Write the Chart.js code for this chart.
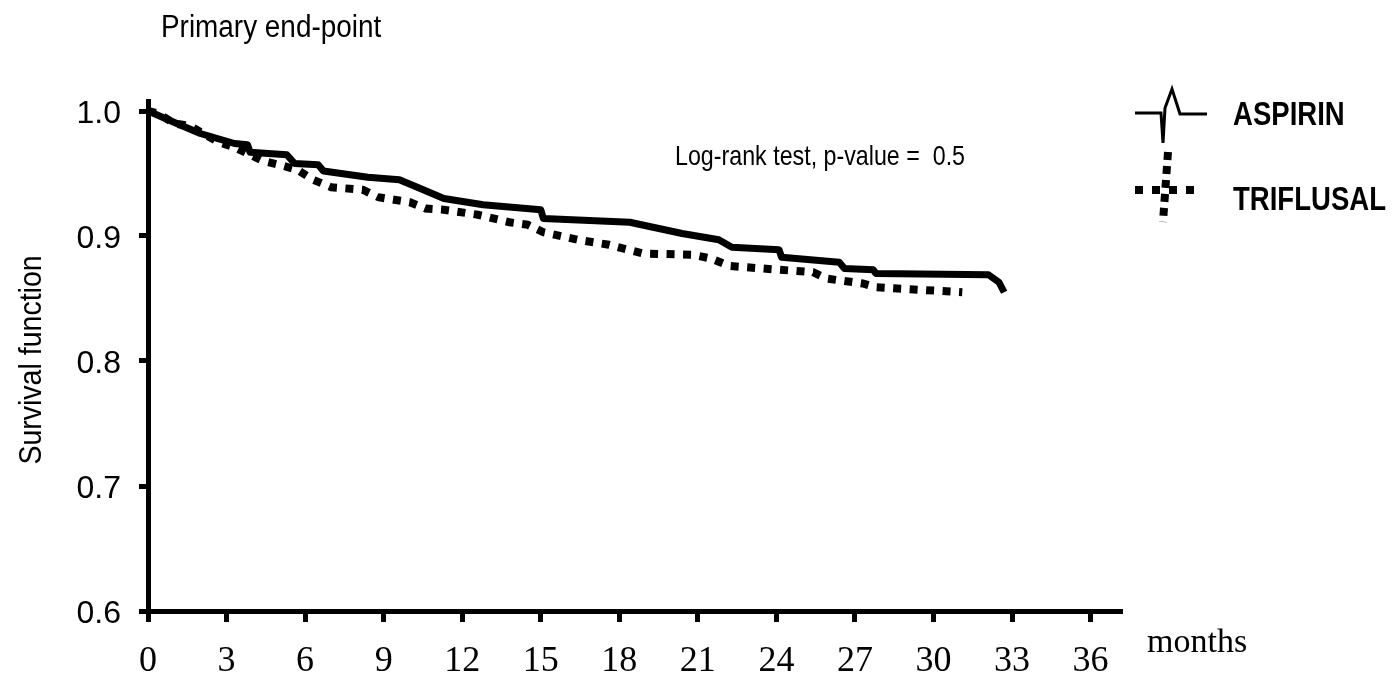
<!DOCTYPE html>
<html>
<head>
<meta charset="utf-8">
<title>Primary end-point</title>
<script src="https://cdn.jsdelivr.net/npm/chart.js@4.4.1/dist/chart.umd.min.js"></script>
<style>
  html, body { margin: 0; padding: 0; background: #ffffff; }
  #wrap { width: 1396px; height: 673px; position: relative; }
</style>
</head>
<body>
<div id="wrap"><canvas id="km" width="1396" height="673"></canvas></div>
<script>
// Tick labels
const monthTicks = [0, 3, 6, 9, 12, 15, 18, 21, 24, 27, 30, 33, 36];
const survivalTicks = [0.6, 0.7, 0.8, 0.9, 1.0];

// Kaplan-Meier estimates, ASPIRIN arm
const aspirinMonths = [0, 1.1, 2.0, 3.3, 3.8, 3.9, 5.3, 5.6, 6.5, 6.7, 8.4, 9.6, 10.4, 11.3, 12.8, 15.0, 15.1,
  18.4, 20.4, 21.8, 22.3, 24.1, 24.2, 26.4, 26.6, 27.7, 27.8, 32.1, 32.5, 32.7];
const aspirinSurvival = [1.000, 0.990, 0.982, 0.974, 0.973, 0.967, 0.965, 0.958, 0.957, 0.952, 0.947, 0.945, 0.938,
  0.930, 0.925, 0.921, 0.914, 0.911, 0.902, 0.897, 0.891, 0.889, 0.883, 0.879, 0.874, 0.873, 0.870, 0.869, 0.863, 0.855];

// Kaplan-Meier estimates, TRIFLUSAL arm
const triflusalMonths = [0, 0.4, 1.0, 1.6, 2.7, 3.3, 4.4, 5.0, 5.7, 6.3, 7.0, 8.2, 8.8, 9.4, 10.0, 10.6, 11.3,
  12.6, 13.8, 14.5, 15.1, 16.4, 17.6, 18.9, 20.8, 21.5, 22.2, 25.4, 25.9, 27.3, 27.8, 31.1];
const triflusalSurvival = [1.000, 0.998, 0.990, 0.988, 0.975, 0.971, 0.960, 0.957, 0.953, 0.945, 0.939, 0.937, 0.931,
  0.929, 0.927, 0.922, 0.921, 0.917, 0.911, 0.909, 0.903, 0.897, 0.893, 0.886, 0.885, 0.882, 0.876, 0.871, 0.866,
  0.862, 0.859, 0.855];

const seriesNames = ['ASPIRIN', 'TRIFLUSAL'];

function toPoints(xs, ys) {
  return xs.map((x, i) => ({ x: x, y: ys[i] }));
}

// Draw text squeezed horizontally (the figure uses a condensed face)
function squeezedText(ctx, text, x, y, font, sx, align, rotate) {
  ctx.save();
  ctx.font = font;
  ctx.fillStyle = '#000';
  ctx.textBaseline = 'alphabetic';
  ctx.textAlign = align || 'left';
  ctx.translate(x, y);
  if (rotate) ctx.rotate(rotate);
  ctx.scale(sx, 1);
  ctx.fillText(text, 0, 0);
  ctx.restore();
}

const decorations = {
  id: 'decorations',
  afterDraw(chart) {
    const ctx = chart.ctx;
    const sans = '"Liberation Sans", Arial, sans-serif';

    // titles and note
    squeezedText(ctx, 'Primary end-point', 161, 37, '31px ' + sans, 0.9, 'left');
    squeezedText(ctx, 'Survival function', 41, 360, '31px ' + sans, 0.92, 'center', -Math.PI / 2);
    squeezedText(ctx, 'Log-rank test, p-value =  0.5', 675, 165, '28px ' + sans, 0.83, 'left');
    squeezedText(ctx, 'months', 1147, 652, '34px "Liberation Serif", "Times New Roman", serif', 1.0, 'left');

    // legend
    squeezedText(ctx, seriesNames[0], 1233, 125, 'bold 34px ' + sans, 0.81, 'left');
    squeezedText(ctx, seriesNames[1], 1233, 210, 'bold 34px ' + sans, 0.81, 'left');

    ctx.save();
    ctx.strokeStyle = '#000';
    ctx.lineJoin = 'miter';
    ctx.lineWidth = 3;
    ctx.beginPath();
    ctx.moveTo(1135, 113);
    ctx.lineTo(1161, 113);
    ctx.lineTo(1163, 143);
    ctx.lineTo(1165, 108);
    ctx.lineTo(1172, 89);
    ctx.lineTo(1180, 114);
    ctx.lineTo(1207, 114);
    ctx.stroke();

    ctx.lineWidth = 8;
    ctx.setLineDash([8, 9]);
    ctx.beginPath();
    ctx.moveTo(1135, 190);
    ctx.lineTo(1202, 190);
    ctx.stroke();
    ctx.setLineDash([8, 6]);
    ctx.lineCap = 'butt';
    ctx.beginPath();
    ctx.moveTo(1168, 152);
    ctx.lineTo(1163, 222);
    ctx.stroke();
    ctx.restore();
  }
};

new Chart(document.getElementById('km'), {
  type: 'line',
  data: {
    datasets: [
      {
        label: seriesNames[0],
        data: toPoints(aspirinMonths, aspirinSurvival),
        borderColor: '#000',
        borderWidth: 7,
        pointRadius: 0,
        tension: 0,
        fill: false,
        borderJoinStyle: 'round',
        borderCapStyle: 'butt'
      },
      {
        label: seriesNames[1],
        data: toPoints(triflusalMonths, triflusalSurvival),
        borderColor: '#000',
        borderWidth: 8,
        borderDash: [8, 8.5],
        pointRadius: 0,
        tension: 0,
        fill: false,
        borderCapStyle: 'butt'
      }
    ]
  },
  options: {
    responsive: false,
    animation: false,
    events: [],
    layout: { padding: { top: 101, right: 274, left: 0, bottom: 0 } },
    plugins: {
      legend: { display: false },
      tooltip: { enabled: false },
      title: { display: false }
    },
    scales: {
      x: {
        type: 'linear',
        min: 0,
        max: 37.2,
        afterBuildTicks: s => { s.ticks = monthTicks.map(v => ({ value: v })); },
        afterFit: s => { s.height = 62; },
        border: { display: true, width: 5, color: '#000' },
        grid: { display: true, drawOnChartArea: false, drawTicks: true, tickLength: 11, tickWidth: 5, tickColor: '#000' },
        ticks: {
          autoSkip: false,
          maxRotation: 0,
          padding: 18,
          color: '#000',
          font: { family: '"Liberation Serif", "Times New Roman", serif', size: 36 },
          callback: v => String(v)
        }
      },
      y: {
        type: 'linear',
        min: 0.6,
        max: 1.008,
        afterBuildTicks: s => { s.ticks = survivalTicks.map(v => ({ value: v })); },
        afterFit: s => { s.width = 148; },
        border: { display: true, width: 5, color: '#000' },
        grid: { display: true, drawOnChartArea: false, drawTicks: true, tickLength: 9, tickWidth: 5, tickColor: '#000' },
        ticks: {
          padding: 18,
          labelOffset: 3,
          color: '#000',
          font: { family: '"Liberation Sans Narrow", "Liberation Sans", Arial, sans-serif', size: 32 },
          callback: v => v.toFixed(1)
        }
      }
    }
  },
  plugins: [decorations]
});
</script>
</body>
</html>
